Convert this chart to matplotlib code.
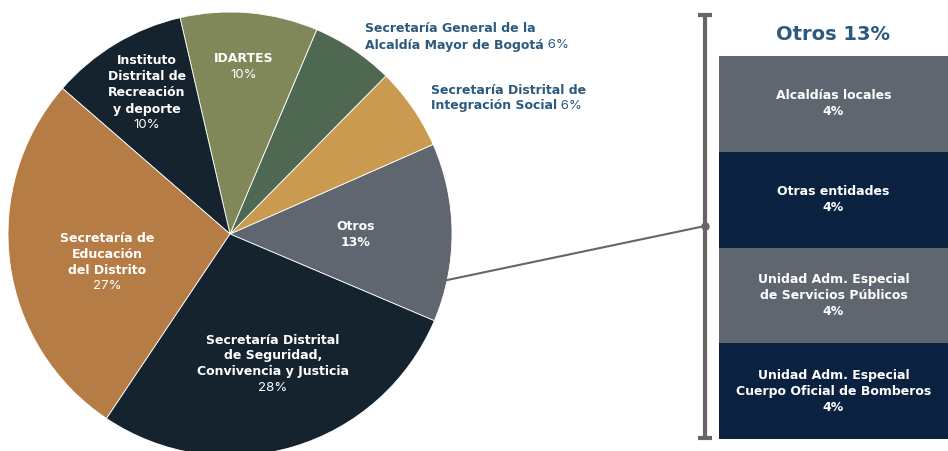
import matplotlib
matplotlib.use("Agg")
from matplotlib import pyplot as plt

plt.rcParams['font.family'] = ['DejaVu Sans']

# pie data (counter-clockwise from the lower right)
pie_labels = ["Otros", "Secretaría Distrital de\nIntegración Social", "Secretaría General de la\nAlcaldía Mayor de Bogotá",
              "IDARTES", "Instituto\nDistrital de\nRecreación\ny deporte", "Secretaría de\nEducación\ndel Distrito",
              "Secretaría Distrital\nde Seguridad,\nConvivencia y Justicia"]
pie_values = [13, 6, 6, 10, 10, 27, 28]
pie_colors = ["#5f6670", "#c99a50", "#4f6852", "#80885a", "#15232f", "#b57d45", "#15232f"]

# breakdown of "Otros"
otros_labels = ["Alcaldías locales", "Otras entidades", "Unidad Adm. Especial\nde Servicios Públicos",
                "Unidad Adm. Especial\nCuerpo Oficial de Bomberos"]
otros_values = [4, 4, 4, 4]
otros_colors = ["#5f6670", "#0a2240", "#5f6670", "#0a2240"]

W, H = 948, 451
fig = plt.figure(figsize=(W / 100, H / 100), dpi=100)
ax = fig.add_axes([0, 0, 1, 1])

cx, cy, r = 230, H - 234, 222
ax.pie(pie_values, colors=pie_colors, startangle=-23, counterclock=True,
       center=(cx, cy), radius=r, frame=True,
       wedgeprops=dict(edgecolor="white", linewidth=0.6))
ax.set_xlim(0, W)
ax.set_ylim(0, H)
ax.set_aspect("equal")
ax.axis("off")

white = "white"
blue = "#2c5a7e"
fs = 9
lh = 16  # line height in px
reg = "Inter"


def block(x, y, text, color, ha="center"):
    # draw one line at a time, y is the centre of the first line (from top)
    t = None
    for k, line in enumerate(text.split("\n")):
        t = ax.text(x, H - y - k * lh, line, color=color, fontsize=fs, fontweight="bold",
                    ha=ha, va="center")
    return t, y + lh * (text.count("\n") + 1)


# labels inside the pie (y measured from top)
inside = {0: (356, 227), 3: (244, 59), 4: (147, 61), 5: (107, 238), 6: (273, 340)}
for i, (x, y) in inside.items():
    _, yp = block(x, y, pie_labels[i], white)
    if i == 0:
        ax.text(x, H - yp, f"{pie_values[i]}%", color=white, fontsize=fs, fontweight="bold",
                ha="center", va="center")
    else:
        ax.text(x, H - yp, f"{pie_values[i]}%", color=white, fontsize=fs + 0.5, family=reg,
                ha="center", va="center")

# labels outside the pie
outside = {2: (365, 29), 1: (431, 90)}
for i, (x, y) in outside.items():
    last, _ = block(x, y, pie_labels[i], blue, ha="left")
    ax.annotate(f" {pie_values[i]}%", xy=(1, 0.5), xycoords=last, color=blue, fontsize=fs + 0.5,
                family=reg, ha="left", va="center")

# stacked boxes for "Otros"
bx0, bx1, by0, by1 = 719, 948, 56, 439
step = (by1 - by0) / sum(otros_values)
top = by0
for lab, v, c in zip(otros_labels, otros_values, otros_colors):
    h = v * step
    ax.bar((bx0 + bx1) / 2, h, width=bx1 - bx0, bottom=H - top - h, color=c, linewidth=0)
    n = lab.count("\n") + 2
    block((bx0 + bx1) / 2, top + h / 2 - lh * (n - 1) / 2, f"{lab}\n{v}%", white)
    top += h

ax.text((bx0 + bx1) / 2, H - 35, f"Otros {pie_values[0]}%", color=blue, fontsize=14,
        fontweight="bold", ha="center", va="center")

# bracket and connector
gray = "#666666"
ax.plot([705, 705], [H - 15, H - 438], color=gray, lw=3, solid_capstyle="butt")
ax.plot([698, 712], [H - 15, H - 15], color=gray, lw=3, solid_capstyle="butt")
ax.plot([698, 712], [H - 438, H - 438], color=gray, lw=3, solid_capstyle="butt")
ax.plot([433, 705], [H - 283, H - 226], color=gray, lw=1.5)
ax.plot([433], [H - 283], "o", color=gray, ms=3)
ax.plot([705], [H - 226], "o", color=gray, ms=5)

fig.savefig("out.png", dpi=100)
